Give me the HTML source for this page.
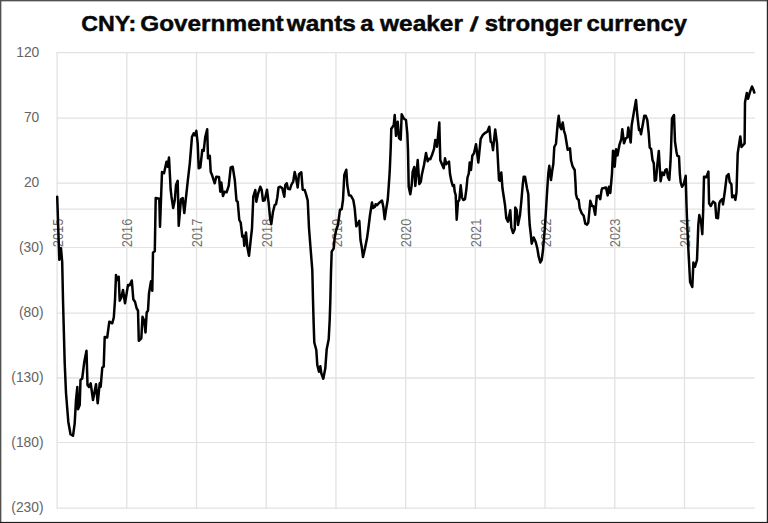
<!DOCTYPE html>
<html><head><meta charset="utf-8"><title>CNY</title>
<style>
html,body{margin:0;padding:0;background:#fff;}
body{width:768px;height:523px;overflow:hidden;position:relative;}
svg{position:absolute;left:0;top:0;display:block;}

.yl text{font-family:"Liberation Sans","DejaVu Sans",sans-serif;font-size:13.8px;fill:#646464;}
.xl text{font-family:"Liberation Sans","DejaVu Sans",sans-serif;font-size:14.4px;fill:#6e6e6e;}
.title text{font-family:"Liberation Sans","DejaVu Sans",sans-serif;font-weight:bold;font-size:21.2px;fill:#080808;stroke:#080808;stroke-width:0.45px;stroke-linejoin:round;}
</style></head><body>
<svg width="768" height="523" viewBox="0 0 768 523">
<rect x="0" y="0" width="768" height="523" fill="#fff"/>
<g class="grid"><line x1="56.8" x2="754.8" y1="52.60" y2="52.60" stroke="#e2e2e2" stroke-width="1.1"/><line x1="56.8" x2="754.8" y1="118.20" y2="118.20" stroke="#e2e2e2" stroke-width="1.3"/><line x1="56.8" x2="754.8" y1="183.20" y2="183.20" stroke="#e2e2e2" stroke-width="1.3"/><line x1="56.8" x2="754.8" y1="247.50" y2="247.50" stroke="#e2e2e2" stroke-width="1.1"/><line x1="56.8" x2="754.8" y1="313.20" y2="313.20" stroke="#e2e2e2" stroke-width="1.3"/><line x1="56.8" x2="754.8" y1="378.00" y2="378.00" stroke="#e2e2e2" stroke-width="1.3"/><line x1="56.8" x2="754.8" y1="442.50" y2="442.50" stroke="#e2e2e2" stroke-width="1.1"/><line x1="56.8" x2="754.8" y1="508.15" y2="508.15" stroke="#e2e2e2" stroke-width="1.3"/><line x1="56.8" x2="754.8" y1="209.20" y2="209.20" stroke="#e2e2e2" stroke-width="1.3"/><line y1="52" y2="508.6" x1="57.10" x2="57.10" stroke="#e2e2e2" stroke-width="1.3"/><line y1="52" y2="508.6" x1="126.81" x2="126.81" stroke="#e2e2e2" stroke-width="1.3"/><line y1="52" y2="508.6" x1="196.52" x2="196.52" stroke="#e2e2e2" stroke-width="1.3"/><line y1="52" y2="508.6" x1="266.23" x2="266.23" stroke="#e2e2e2" stroke-width="1.3"/><line y1="52" y2="508.6" x1="335.94" x2="335.94" stroke="#e2e2e2" stroke-width="1.3"/><line y1="52" y2="508.6" x1="405.65" x2="405.65" stroke="#e2e2e2" stroke-width="1.3"/><line y1="52" y2="508.6" x1="475.36" x2="475.36" stroke="#e2e2e2" stroke-width="1.3"/><line y1="52" y2="508.6" x1="545.07" x2="545.07" stroke="#e2e2e2" stroke-width="1.3"/><line y1="52" y2="508.6" x1="614.78" x2="614.78" stroke="#e2e2e2" stroke-width="1.3"/><line y1="52" y2="508.6" x1="684.49" x2="684.49" stroke="#e2e2e2" stroke-width="1.3"/></g>
<g class="yl"><text x="39.3" y="56.70" text-anchor="end">120</text><text x="39.3" y="122.30" text-anchor="end">70</text><text x="39.3" y="187.30" text-anchor="end">20</text><text x="43.5" y="251.60" text-anchor="end">(30)</text><text x="43.5" y="317.30" text-anchor="end">(80)</text><text x="43.5" y="382.10" text-anchor="end">(130)</text><text x="43.5" y="446.60" text-anchor="end">(180)</text><text x="43.5" y="512.25" text-anchor="end">(230)</text></g>
<g class="xl"><text transform="translate(62.70,247.2) rotate(-90)" textLength="28.5" lengthAdjust="spacingAndGlyphs">2015</text><text transform="translate(132.41,247.2) rotate(-90)" textLength="28.5" lengthAdjust="spacingAndGlyphs">2016</text><text transform="translate(202.12,247.2) rotate(-90)" textLength="28.5" lengthAdjust="spacingAndGlyphs">2017</text><text transform="translate(271.83,247.2) rotate(-90)" textLength="28.5" lengthAdjust="spacingAndGlyphs">2018</text><text transform="translate(341.54,247.2) rotate(-90)" textLength="28.5" lengthAdjust="spacingAndGlyphs">2019</text><text transform="translate(411.25,247.2) rotate(-90)" textLength="28.5" lengthAdjust="spacingAndGlyphs">2020</text><text transform="translate(480.96,247.2) rotate(-90)" textLength="28.5" lengthAdjust="spacingAndGlyphs">2021</text><text transform="translate(550.67,247.2) rotate(-90)" textLength="28.5" lengthAdjust="spacingAndGlyphs">2022</text><text transform="translate(620.38,247.2) rotate(-90)" textLength="28.5" lengthAdjust="spacingAndGlyphs">2023</text><text transform="translate(690.09,247.2) rotate(-90)" textLength="28.5" lengthAdjust="spacingAndGlyphs">2024</text></g>
<g class="title"><text x="81.3" y="31.35" textLength="55.0" lengthAdjust="spacingAndGlyphs">CNY:</text><text x="140.2" y="31.35" textLength="143.5" lengthAdjust="spacingAndGlyphs">Government</text><text x="286.7" y="31.35" textLength="69.2" lengthAdjust="spacingAndGlyphs">wants</text><text x="360.2" y="31.35" textLength="13.4" lengthAdjust="spacingAndGlyphs">a</text><text x="380.0" y="31.35" textLength="83.0" lengthAdjust="spacingAndGlyphs">weaker</text><text transform="translate(469.5,31.1) skewX(-7) scale(1.28,0.95)">/</text><text x="484.8" y="31.35" textLength="97.2" lengthAdjust="spacingAndGlyphs">stronger</text><text x="586.6" y="31.35" textLength="100.4" lengthAdjust="spacingAndGlyphs">currency</text></g>
<polyline fill="none" stroke="#000" stroke-width="2.5" stroke-linejoin="round" stroke-linecap="round" points="57.2,196.7 59.3,259.7 61.0,248.3 62.2,262.0 63.0,300.0 64.7,363.0 66.0,393.0 68.3,421.7 70.5,434.2 73.0,435.8 74.7,423.3 76.0,400.0 77.3,387.0 78.0,409.2 79.7,405.0 80.5,380.0 82.2,378.5 84.3,361.7 86.5,350.8 87.5,385.0 89.0,387.0 90.7,383.3 93.0,400.0 96.0,384.2 97.7,403.3 99.7,383.3 100.7,386.7 102.3,367.5 103.7,366.7 104.7,337.0 107.2,337.5 109.3,321.7 112.2,323.3 113.8,317.5 115.0,300.0 116.0,275.0 117.3,280.0 118.7,276.7 119.7,300.8 121.3,297.5 123.0,290.0 125.0,303.3 128.0,285.0 129.7,285.3 131.8,280.5 133.3,299.2 135.0,301.7 136.7,308.5 138.0,310.5 138.8,340.8 141.3,338.3 142.5,316.7 144.2,320.8 145.5,332.5 146.7,312.5 148.0,310.5 149.0,293.3 151.0,281.3 152.3,290.8 153.0,252.5 154.8,251.3 155.7,198.0 159.3,198.7 160.0,226.7 162.0,172.0 164.0,173.3 166.5,161.7 167.7,166.7 169.0,157.5 170.7,190.0 171.5,196.7 173.2,208.0 174.8,200.0 176.0,185.0 177.7,180.8 178.7,225.8 181.0,199.2 182.7,198.0 184.3,213.0 187.7,181.7 189.8,163.3 192.0,136.7 193.7,133.3 194.8,135.3 196.3,130.8 197.7,143.3 198.7,168.3 200.3,167.5 202.3,150.0 203.7,150.8 205.3,136.7 207.2,129.2 208.0,158.3 209.8,155.8 210.7,171.7 212.3,175.8 214.7,183.3 216.3,176.7 219.0,177.0 220.3,191.7 221.3,182.5 223.0,196.0 224.5,191.7 226.6,192.3 228.7,185.8 230.7,167.5 232.7,166.7 234.8,180.0 236.5,200.8 237.7,201.7 239.3,220.0 240.7,222.5 242.3,236.7 243.5,235.8 244.3,245.8 246.0,232.5 247.3,246.7 249.0,255.8 250.7,240.0 252.0,228.3 253.3,196.7 255.3,190.0 256.3,201.7 258.2,193.3 260.3,186.7 261.7,190.0 263.0,200.8 264.7,200.3 267.0,189.7 268.7,203.3 270.0,217.5 271.3,224.2 273.0,211.7 274.7,205.0 276.0,204.2 277.3,197.5 278.5,187.5 280.3,186.7 282.3,188.3 284.3,196.7 285.3,185.0 286.7,183.3 288.0,188.7 290.0,189.2 291.3,185.0 293.3,181.3 294.7,172.0 296.0,177.5 297.7,187.5 299.0,174.2 301.3,172.2 302.7,189.7 304.7,190.0 306.0,194.2 307.7,200.3 309.0,228.0 310.7,250.0 312.3,270.0 313.0,300.0 313.7,325.0 314.3,342.5 316.3,350.0 317.3,365.0 319.0,371.7 320.3,366.3 321.3,373.3 323.3,378.7 325.3,368.3 326.7,349.2 328.7,339.2 329.7,320.0 330.3,301.7 331.0,271.7 331.7,251.7 333.7,248.3 334.7,237.5 336.3,229.5 338.0,225.0 340.0,209.7 341.7,209.2 343.0,200.0 344.3,175.0 346.3,169.7 347.3,185.0 349.0,195.3 351.0,195.8 353.3,200.0 354.7,208.3 356.3,226.3 358.0,223.3 359.3,220.8 360.5,240.0 361.7,246.7 363.0,257.0 365.0,248.3 367.0,238.3 368.3,229.0 370.0,215.0 372.0,202.5 373.0,208.0 374.7,207.0 375.7,204.2 377.0,205.3 379.0,203.0 382.0,200.5 383.3,206.7 384.7,219.2 386.0,210.0 387.7,200.0 388.7,186.7 389.7,171.7 390.7,148.3 391.3,128.7 393.7,125.3 394.7,115.0 396.0,135.8 397.7,121.7 399.0,138.0 400.7,139.7 401.7,114.2 404.0,118.7 406.0,120.0 407.3,133.3 408.0,150.0 408.7,186.7 410.3,194.2 411.7,185.0 412.7,171.7 414.3,167.0 415.3,186.0 416.5,173.3 417.7,160.0 419.3,184.0 420.8,181.8 421.8,175.0 424.0,165.0 426.0,153.0 427.7,161.3 429.0,158.7 430.3,159.2 432.0,155.0 434.0,149.2 435.3,140.0 437.0,146.7 439.3,122.5 440.3,160.3 442.3,165.0 443.7,168.3 445.0,158.3 446.3,164.2 449.0,161.7 450.0,174.0 451.5,181.7 452.8,186.0 454.0,185.0 454.7,191.7 455.7,195.0 456.7,219.7 458.0,201.7 459.3,200.0 460.7,185.3 462.0,197.5 463.3,200.0 465.0,199.2 466.3,190.0 467.5,177.5 468.8,173.3 469.7,162.5 471.0,170.0 472.3,155.8 474.0,153.3 476.0,144.2 478.3,162.5 480.7,138.9 483.0,134.7 485.3,132.8 487.3,131.7 489.3,126.7 490.7,141.7 492.0,142.8 493.0,150.2 495.2,129.4 497.0,143.3 498.0,161.7 499.0,180.0 500.0,180.8 501.3,172.5 502.5,188.5 505.0,205.0 506.3,218.3 508.0,221.7 509.0,216.7 510.3,210.3 511.3,227.5 513.0,233.0 514.7,229.2 515.3,207.5 516.7,210.0 518.0,225.0 520.0,215.0 521.3,201.7 522.7,185.0 523.7,176.7 525.0,176.7 527.0,188.3 528.3,194.2 529.0,213.3 529.7,225.0 530.7,233.3 531.7,243.7 533.7,237.5 535.7,242.0 537.3,248.3 538.7,256.7 540.3,262.5 541.7,260.0 543.0,250.0 544.7,230.0 546.0,210.0 547.3,188.5 548.3,173.3 549.3,165.8 551.0,180.0 552.3,170.0 553.3,164.2 554.3,147.0 556.0,143.7 557.7,123.3 558.7,115.8 560.0,126.7 561.3,129.2 562.7,122.5 564.0,130.8 565.3,135.0 567.7,149.7 570.0,148.3 571.0,160.3 572.7,166.7 574.7,170.0 575.5,183.0 576.0,194.2 577.0,198.3 578.7,200.0 579.7,208.3 581.7,213.3 583.7,215.8 585.3,223.7 587.0,224.7 588.3,222.5 590.3,200.8 592.0,206.0 593.5,206.3 595.2,214.8 596.8,196.2 598.8,195.8 600.2,199.2 601.6,190.0 602.3,188.3 604.0,188.0 606.0,187.5 607.7,195.4 609.0,186.7 610.3,193.0 612.0,173.3 613.0,150.8 614.1,151.7 614.7,166.7 616.1,149.2 617.5,155.4 619.5,144.6 621.3,139.2 622.3,129.2 624.0,143.3 625.7,138.3 627.3,137.5 628.3,127.5 630.7,142.5 631.7,125.0 633.7,113.3 636.0,100.0 637.3,115.0 639.0,130.0 640.0,129.2 641.0,134.2 642.7,125.0 644.3,115.8 645.7,115.8 647.3,120.0 648.7,133.3 649.7,147.5 651.2,149.2 652.5,160.0 653.8,163.3 654.7,180.8 656.0,180.0 657.2,166.0 658.8,151.0 660.6,181.3 662.3,172.5 664.0,175.0 665.3,170.0 666.7,169.2 668.0,177.5 669.3,180.0 670.5,161.7 671.0,150.0 672.0,118.3 674.0,115.0 675.0,141.7 676.5,152.0 677.3,155.8 679.0,156.5 679.8,173.3 680.7,182.5 682.0,186.7 683.7,184.2 685.7,175.8 686.5,205.0 687.3,226.7 688.4,250.0 690.1,282.0 692.3,287.0 693.4,262.6 694.9,266.8 697.0,260.0 697.7,241.7 698.3,225.0 699.3,215.0 701.0,221.7 702.3,234.2 703.2,210.0 704.0,176.7 706.3,177.2 708.4,171.6 709.1,203.4 710.8,206.0 713.1,201.6 715.2,203.2 716.3,217.8 718.0,218.2 719.3,203.3 720.2,201.1 722.2,199.2 723.0,204.4 725.0,190.3 726.7,176.2 728.6,174.2 729.7,181.9 731.4,184.2 732.1,197.3 734.0,195.5 735.4,199.9 736.5,192.2 737.7,153.4 740.3,136.4 741.5,147.0 744.6,143.5 745.0,102.5 746.8,93.1 748.0,98.8 750.0,91.9 752.0,86.5 753.3,89.4 754.3,92.5"/>
<rect x="0" y="0" width="768" height="1.35" fill="#505050"/><rect x="0" y="0" width="1.35" height="523" fill="#505050"/><rect x="766.8" y="0" width="1.2" height="523" fill="#262626"/><rect x="0" y="521.9" width="768" height="1.1" fill="#1c1c1c"/>
</svg>
</body></html>
